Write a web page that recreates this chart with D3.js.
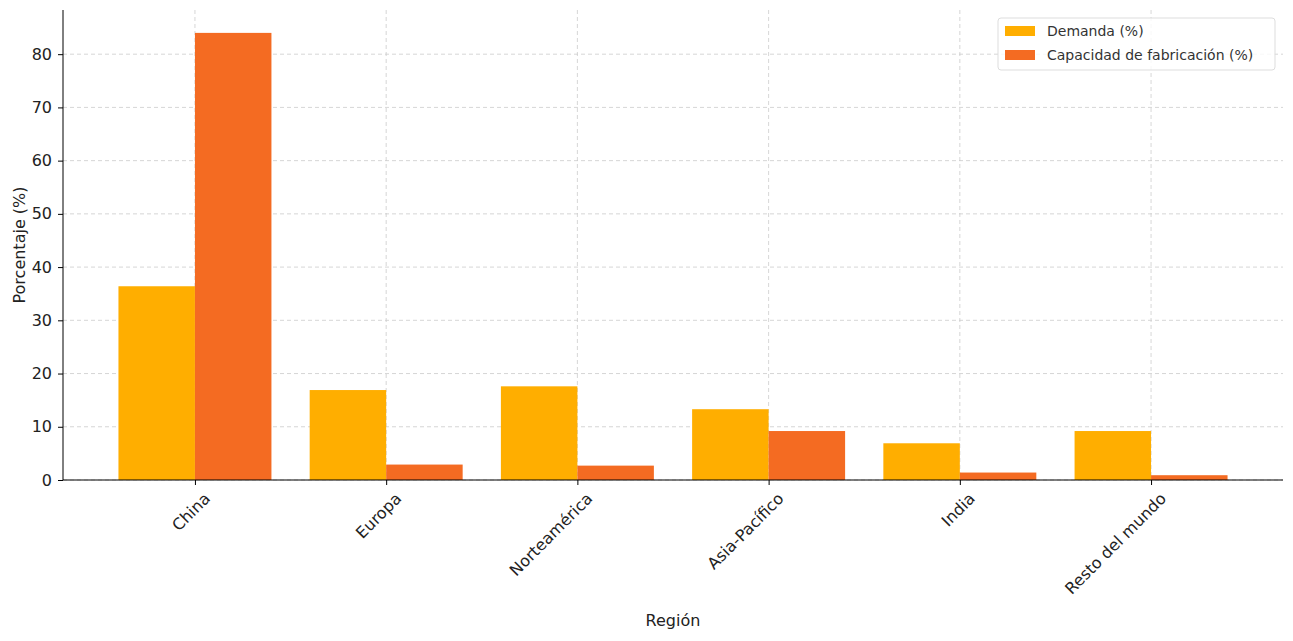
<!DOCTYPE html>
<html><head><meta charset="utf-8">
<script src="https://cdn.jsdelivr.net/npm/d3@7"></script>
<style>body{margin:0;background:#fff}text{font-family:"DejaVu Sans",sans-serif}</style>
</head><body>
<svg id="c" width="1293" height="641"></svg>
<script>
const categories=["China","Europa","Norteamérica","Asia-Pacífico","India","Resto del mundo"];
const demanda=[36.4,16.9,17.6,13.3,6.9,9.2];
const capacidad=[84.0,2.9,2.7,9.2,1.4,0.9];
const seriesNames=["Demanda (%)","Capacidad de fabricación (%)"];
const colors=["#FFAE00","#F46B22"];
const yTicks=[0,10,20,30,40,50,60,70,80];

const svg=d3.select("#c");
const L=63,R=1283,T=10,B=480;
const x=d3.scaleLinear().domain([-0.69,5.69]).range([L,R]);
const y=d3.scaleLinear().domain([0,88.3]).range([B,T]);
const w=x(0.4)-x(0);

const g=svg.append("g");
// grid
g.selectAll(".gy").data(yTicks).join("line").attr("x1",L).attr("x2",R)
 .attr("y1",d=>y(d)).attr("y2",d=>y(d)).attr("stroke","#ccc").attr("stroke-dasharray","4,3").attr("stroke-width",0.8);
g.selectAll(".gx").data(categories).join("line").attr("y1",T).attr("y2",B)
 .attr("x1",(d,i)=>x(i)).attr("x2",(d,i)=>x(i)).attr("stroke","#ccc").attr("stroke-dasharray","4,3").attr("stroke-width",0.8);

[demanda,capacidad].forEach((s,k)=>{
 g.selectAll(".b"+k).data(s).join("rect")
  .attr("x",(d,i)=>x(i)+(k===0?-0.4:0)*(w/0.4))
  .attr("width",w).attr("y",d=>y(d)).attr("height",d=>B-y(d)).attr("fill",colors[k]);
});

// axes
const ya=svg.append("g").attr("transform",`translate(${L},0)`)
 .call(d3.axisLeft(y).tickValues(yTicks).tickSize(5).tickPadding(6));
ya.selectAll("text").attr("font-size",16).attr("fill","#222");
ya.select(".domain").attr("d",`M-0,${T}V${B}`);
const xa=svg.append("g").attr("transform",`translate(0,${B})`)
 .call(d3.axisBottom(x).tickValues(d3.range(categories.length)).tickFormat(i=>categories[i]).tickSize(5));
xa.select(".domain").attr("d",`M${L},0H${R}`);
xa.selectAll("text").attr("font-size",16).attr("fill","#222")
 .attr("text-anchor","end").attr("dy",0).attr("transform","translate(10,14) rotate(-45)");

svg.append("text").attr("x",(L+R)/2).attr("y",626).attr("text-anchor","middle").attr("font-size",16).attr("fill","#222").text("Región");
svg.append("text").attr("transform",`translate(25,${(T+B)/2}) rotate(-90)`).attr("text-anchor","middle").attr("font-size",16).attr("fill","#222").text("Porcentaje (%)");

// legend
const lg=svg.append("g").attr("transform","translate(998,18)");
lg.append("rect").attr("width",277).attr("height",52).attr("rx",3).attr("fill","#fff").attr("fill-opacity",0.8).attr("stroke","#ddd");
seriesNames.forEach((n,i)=>{
 lg.append("rect").attr("x",7).attr("y",8+i*24).attr("width",30).attr("height",10).attr("fill",colors[i]);
 lg.append("text").attr("x",49).attr("y",18+i*24).attr("font-size",14).attr("fill","#333").text(n);
});
</script></body></html>
